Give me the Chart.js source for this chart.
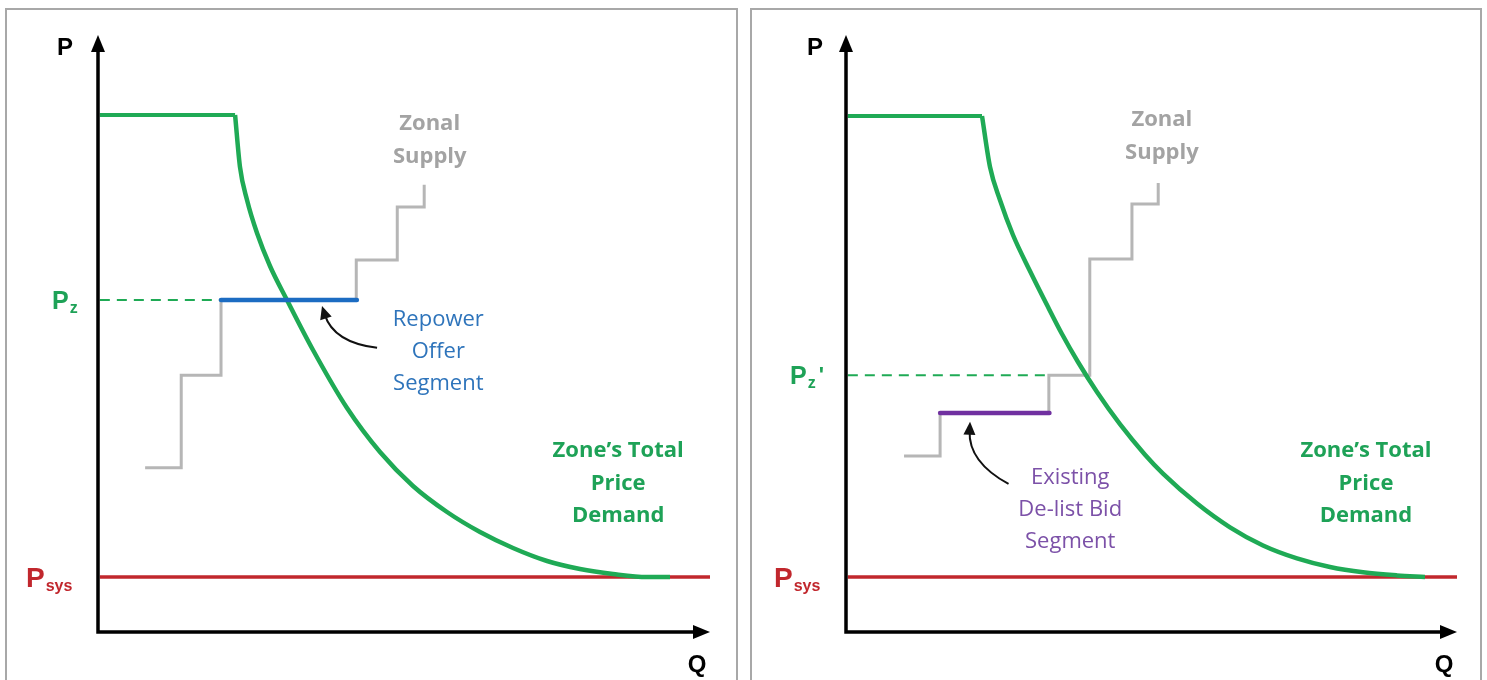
<!DOCTYPE html>
<html>
<head>
<meta charset="utf-8">
<script src="https://cdn.jsdelivr.net/npm/chart.js@4.4.1/dist/chart.umd.min.js"></script>
<style>
  html, body { margin: 0; padding: 0; background: #fff; overflow: hidden; }
  .panel { position: absolute; top: 8px; height: 700px; border: 2px solid #a8a8a8; box-sizing: border-box; }
  .panel canvas { position: absolute; left: -2px; top: -2px; }
  #leftPanel { left: 5px; width: 733px; }
  #rightPanel { left: 750px; width: 732px; }
</style>
</head>
<body>
<div class="panel" id="leftPanel"><canvas id="chartRepower" width="733" height="672"></canvas></div>
<div class="panel" id="rightPanel"><canvas id="chartDelist" width="732" height="672"></canvas></div>

<script>
/* ── Data (Q and P in arbitrary units, axis origin = 0, arrow tips = 100) ── */

// System price (flat red line), same in both panels
const sysPriceQ = [0.3, 100];
const sysPriceP = [9.2, 9.2];

// Left panel — zone's total price demand (flat cap, then the curve)
const demandCapQ_A = [0.3, 22.4];
const demandCapP_A = [86.6, 86.6];
const demandQ_A = [22.4, 23.2, 24.35, 25.98, 28.1, 30.88, 35.13, 40.69, 46.08, 51.47, 57.03, 62.42, 67.81, 73.37, 78.76, 84.15, 89.71, 93.46];
const demandP_A = [86.6, 77.89, 72.36, 66.83, 61.31, 55.61, 47.24, 37.52, 30.15, 24.46, 20.1, 16.75, 14.07, 11.89, 10.55, 9.72, 9.21, 9.21];

// Left panel — zonal supply steps
const supplyQ_A = [7.7, 13.6, 13.6, 20.1, 20.1, 42.2, 42.2, 48.9, 48.9, 53.3, 53.3];
const supplyP_A = [27.5, 27.5, 43.0, 43.0, 55.6, 55.6, 62.3, 62.3, 71.2, 71.2, 74.9];

// Left panel — repower offer segment and Pz
const repowerQ = [20.1, 42.3];
const repowerP = [55.6, 55.6];
const pzQ = [0.3, 20.1];
const pzP = [55.6, 55.6];

// Right panel — zone's total price demand (flat cap, then the curve)
const demandCapQ_B = [0.3, 22.26];
const demandCapP_B = [86.43, 86.43];
const demandQ_B = [22.26, 23.57, 25.2, 27.33, 30.11, 32.9, 35.35, 37.97, 41.08, 44.84, 48.94, 51.88, 57.45, 62.85, 68.25, 73.81, 79.21, 84.62, 90.18, 94.76];
const demandP_B = [86.43, 77.89, 72.36, 66.5, 60.47, 54.77, 49.92, 45.23, 40.2, 34.81, 29.7, 26.53, 21.52, 17.54, 14.49, 12.33, 10.89, 10.0, 9.48, 9.21];

// Right panel — zonal supply steps
const supplyQ_B = [9.5, 15.4, 15.4, 33.2, 33.2, 39.9, 39.9, 46.8, 46.8, 51.1, 51.1];
const supplyP_B = [29.5, 29.5, 36.7, 36.7, 43.0, 43.0, 62.5, 62.5, 71.7, 71.7, 75.2];

// Right panel — existing de-list bid segment and Pz'
const delistQ = [15.4, 33.3];
const delistP = [36.7, 36.7];
const pzPrimeQ = [0.3, 33.2];
const pzPrimeP = [43.0, 43.0];

/* ── Colours ── */
const GREEN = '#1faa55';
const GREEN_TXT = '#1ea257';
const RED = '#c1272d';
const GRAY = '#b6b6b6';
const GRAY_TXT = '#a3a3a3';
const BLUE = '#1c6cc2';
const BLUE_TXT = '#2e74bb';
const PURPLE = '#7030a0';
const PURPLE_TXT = '#7c51a8';

const zip = (xs, ys) => xs.map((x, i) => ({ x: x, y: ys[i] }));

/* ── Overlay: axes with arrows, labels, curved pointer ── */
const overlayPlugin = {
    id: 'overlay',
    afterDatasetsDraw(chart, args, opts) {
        const ctx = chart.ctx;
        const a = chart.chartArea;
        const xs = chart.scales.x;
        const ys = chart.scales.y;

        ctx.save();

        // axes
        ctx.strokeStyle = '#000';
        ctx.fillStyle = '#000';
        ctx.lineWidth = 3.5;
        ctx.beginPath();
        ctx.moveTo(a.left, a.top + 12);
        ctx.lineTo(a.left, a.bottom);
        ctx.lineTo(a.right - 12, a.bottom);
        ctx.stroke();
        ctx.beginPath();
        ctx.moveTo(a.left, a.top);
        ctx.lineTo(a.left - 7, a.top + 17);
        ctx.lineTo(a.left + 7, a.top + 17);
        ctx.closePath();
        ctx.fill();
        ctx.beginPath();
        ctx.moveTo(a.right, a.bottom);
        ctx.lineTo(a.right - 17, a.bottom - 7);
        ctx.lineTo(a.right - 17, a.bottom + 7);
        ctx.closePath();
        ctx.fill();

        // axis names
        ctx.font = 'bold 24px "Liberation Sans", Arial, sans-serif';
        ctx.textAlign = 'center';
        ctx.textBaseline = 'middle';
        ctx.fillText('P', a.left + opts.pNameDx, a.top + 13);
        ctx.fillText('Q', a.right - 13, a.bottom + 33);

        // price labels with subscripts
        function subLabel(x, y, color, main, sub, tail, big) {
            ctx.fillStyle = color;
            ctx.textAlign = 'left';
            ctx.textBaseline = 'alphabetic';
            ctx.font = 'bold ' + big + 'px "Liberation Sans", Arial, sans-serif';
            ctx.fillText(main, x, y + big * 0.36);
            const w = ctx.measureText(main).width;
            ctx.font = 'bold 16px "Liberation Sans", Arial, sans-serif';
            ctx.fillText(sub, x + w + 1, y + big * 0.36 + 4);
            if (tail) {
                const w2 = ctx.measureText(sub).width;
                ctx.font = 'bold 22px "Liberation Sans", Arial, sans-serif';
                ctx.fillText(tail, x + w + w2 + 4, y + 7);
            }
        }
        subLabel(a.left + opts.pzDx, ys.getPixelForValue(opts.pzValue), GREEN_TXT, 'P', 'z', opts.pzTail, 25);
        subLabel(a.left - 72, ys.getPixelForValue(sysPriceP[0]), RED, 'P', 'sys', '', 28);

        // text notes
        ctx.textAlign = 'center';
        ctx.textBaseline = 'middle';
        opts.notes.forEach((n) => {
            ctx.fillStyle = n.color;
            ctx.font = (n.bold ? 'bold ' : '') + '22px "Open Sans", sans-serif';
            const x = xs.getPixelForValue(n.q);
            const y0 = ys.getPixelForValue(n.p);
            n.lines.forEach((t, i) => ctx.fillText(t, x, y0 + i * n.gap));
        });

        // curved pointer
        const pt = opts.pointer;
        const tx = xs.getPixelForValue(pt.tail[0]), ty = ys.getPixelForValue(pt.tail[1]);
        const cx = xs.getPixelForValue(pt.ctrl[0]), cy = ys.getPixelForValue(pt.ctrl[1]);
        const hx = xs.getPixelForValue(pt.head[0]), hy = ys.getPixelForValue(pt.head[1]);
        const ang = Math.atan2(hy - cy, hx - cx);
        const bx = hx - 9 * Math.cos(ang), by = hy - 9 * Math.sin(ang);
        ctx.strokeStyle = '#111';
        ctx.fillStyle = '#111';
        ctx.lineWidth = 2;
        ctx.beginPath();
        ctx.moveTo(tx, ty);
        ctx.quadraticCurveTo(cx, cy, bx, by);
        ctx.stroke();
        ctx.beginPath();
        ctx.moveTo(hx, hy);
        ctx.lineTo(hx - 13 * Math.cos(ang) + 6 * Math.sin(ang), hy - 13 * Math.sin(ang) - 6 * Math.cos(ang));
        ctx.lineTo(hx - 13 * Math.cos(ang) - 6 * Math.sin(ang), hy - 13 * Math.sin(ang) + 6 * Math.cos(ang));
        ctx.closePath();
        ctx.fill();

        ctx.restore();
    },
};

function lineSet(data, color, width, order, extra) {
    return Object.assign({
        data: data,
        borderColor: color,
        borderWidth: width,
        pointRadius: 0,
        fill: false,
        tension: 0,
        order: order,
        clip: false,
        borderJoinStyle: 'miter',
    }, extra || {});
}

function makeChart(id, sets, padding, overlay) {
    return new Chart(document.getElementById(id), {
        type: 'line',
        data: { datasets: sets },
        options: {
            responsive: false,
            animation: false,
            layout: { padding: padding },
            plugins: { legend: { display: false }, tooltip: { enabled: false }, overlay: overlay },
            scales: {
                x: { type: 'linear', min: 0, max: 100, display: false },
                y: { type: 'linear', min: 0, max: 100, display: false },
            },
        },
        plugins: [overlayPlugin],
    });
}

/* ── Left: repower offer ── */
makeChart('chartRepower', [
    lineSet(zip(sysPriceQ, sysPriceP), RED, 3.5, 6),
    lineSet(zip(supplyQ_A, supplyP_A), GRAY, 3, 5),
    lineSet(zip(demandCapQ_A, demandCapP_A), GREEN, 4, 4),
    lineSet(zip(demandQ_A, demandP_A), GREEN, 4.5, 4, { cubicInterpolationMode: 'monotone' }),
    lineSet(zip(pzQ, pzP), GREEN, 2, 3, { borderDash: [10, 7] }),
    lineSet(zip(repowerQ, repowerP), BLUE, 4.5, 1, { borderCapStyle: 'round' }),
], { left: 93, top: 27, right: 28, bottom: 48 }, {
    pNameDx: -33,
    pzDx: -46,
    pzValue: pzP[0],
    pzTail: '',
    notes: [
        { lines: ['Zonal', 'Supply'], q: 54.2, p: 85.1, gap: 33, color: GRAY_TXT, bold: true },
        { lines: ['Repower', 'Offer', 'Segment'], q: 55.6, p: 52.3, gap: 32, color: BLUE_TXT, bold: false },
        { lines: ['Zone\u2019s Total', 'Price', 'Demand'], q: 85.0, p: 30.3, gap: 32.5, color: GREEN_TXT, bold: true },
    ],
    pointer: { tail: [45.6, 47.6], ctrl: [38.5, 48.5], head: [36.6, 54.6] },
});

/* ── Right: existing de-list bid ── */
makeChart('chartDelist', [
    lineSet(zip(sysPriceQ, sysPriceP), RED, 3.5, 6),
    lineSet(zip(supplyQ_B, supplyP_B), GRAY, 3, 5),
    lineSet(zip(demandCapQ_B, demandCapP_B), GREEN, 4, 4),
    lineSet(zip(demandQ_B, demandP_B), GREEN, 4.5, 4, { cubicInterpolationMode: 'monotone' }),
    lineSet(zip(pzPrimeQ, pzPrimeP), GREEN, 2, 3, { borderDash: [10, 7] }),
    lineSet(zip(delistQ, delistP), PURPLE, 4.5, 1, { borderCapStyle: 'round' }),
], { left: 96, top: 27, right: 25, bottom: 48 }, {
    pNameDx: -31,
    pzDx: -56,
    pzValue: pzPrimeP[0],
    pzTail: '\'',
    notes: [
        { lines: ['Zonal', 'Supply'], q: 51.7, p: 85.8, gap: 33, color: GRAY_TXT, bold: true },
        { lines: ['Existing', 'De-list Bid', 'Segment'], q: 36.7, p: 25.8, gap: 32, color: PURPLE_TXT, bold: false },
        { lines: ['Zone\u2019s Total', 'Price', 'Demand'], q: 85.1, p: 30.3, gap: 32.5, color: GREEN_TXT, bold: true },
    ],
    pointer: { tail: [26.6, 24.8], ctrl: [20.0, 28.5], head: [20.3, 35.2] },
});
</script>
</body>
</html>
